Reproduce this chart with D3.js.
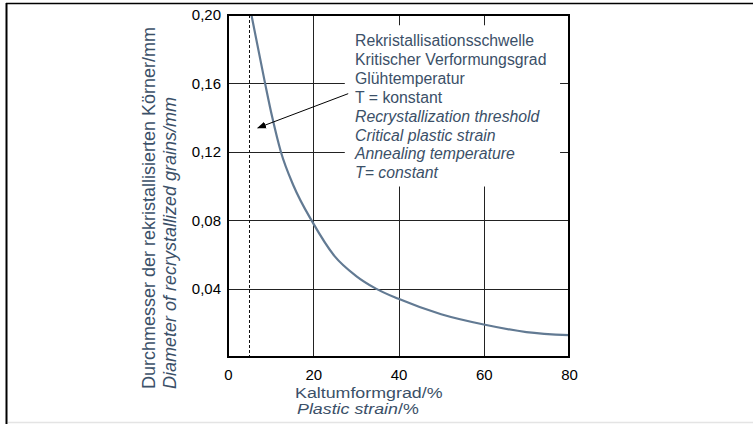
<!DOCTYPE html>
<html>
<head>
<meta charset="utf-8">
<script src="https://cdn.jsdelivr.net/npm/d3@7"></script>
<style>
body{margin:0;background:#fff;}
svg{display:block;font-family:"Liberation Sans",Arial,sans-serif;}
</style>
</head>
<body>
<svg width="753" height="424"></svg>
<script>
const strain = [5.5, 8.7, 10.4, 12.4, 15.4, 19.8, 25, 30, 34.7, 40, 50, 60, 70, 80];
const diameter = [0.200, 0.160, 0.140, 0.120, 0.100, 0.079, 0.059, 0.0475, 0.040, 0.034, 0.025, 0.019, 0.0146, 0.0128];
const xTicks = [0, 20, 40, 60, 80];
const yTicks = [0.04, 0.08, 0.12, 0.16, 0.20];
const threshold = 5;
const noteLines = [
	'Rekristallisationsschwelle',
	'Kritischer Verformungsgrad',
	'Glühtemperatur',
	'T = konstant',
	'Recrystallization threshold',
	'Critical plastic strain',
	'Annealing temperature',
	'T= constant'
];
const noteItalic = [false, false, false, false, true, true, true, true];
// arrow from note to dashed line, in data units
const arrowFrom = [28.2, 0.154];
const arrowTo = [7.0, 0.134];
// area kept clear behind the note
const noteBox = [27.4, 0.194, 77.9, 0.0997];

const textColor = '#3b5068';
const curveColor = '#627a93';

const pLeft = 228, pRight = 569, pTop = 15, pBottom = 357;

var svg = d3.select('svg');
var x = d3.scaleLinear().domain([0, 80]).range([pLeft, pRight]);
var y = d3.scaleLinear().domain([0, 0.20]).range([pBottom, pTop]);
var fmt = d3.formatLocale({decimal: ',', thousands: '.', grouping: [3], currency: ['', '']}).format('.2f');

// outer frame
svg.append('line').attr('x1', 6.5).attr('x2', 6.5).attr('y1', 3).attr('y2', 424)
	.attr('stroke', '#000').attr('stroke-width', 2);
svg.append('line').attr('x1', 6).attr('x2', 753).attr('y1', 3.5).attr('y2', 3.5)
	.attr('stroke', '#000').attr('stroke-width', 1.5);
svg.append('line').attr('x1', 8).attr('x2', 753).attr('y1', 422.5).attr('y2', 422.5)
	.attr('stroke', '#e4e4e4').attr('stroke-width', 1.5);

// grid
var grid = svg.append('g').attr('stroke', '#222').attr('stroke-width', 1);
grid.selectAll('line.v').data(xTicks.filter(d => d > 0 && d < 80)).enter().append('line')
	.attr('x1', d => Math.round(x(d)) + 0.5).attr('x2', d => Math.round(x(d)) + 0.5)
	.attr('y1', pTop).attr('y2', pBottom);
grid.selectAll('line.h').data(yTicks.filter(d => d < 0.2)).enter().append('line')
	.attr('y1', d => Math.round(y(d)) + 0.5).attr('y2', d => Math.round(y(d)) + 0.5)
	.attr('x1', pLeft).attr('x2', pRight);

// dashed threshold line
svg.append('line')
	.attr('x1', Math.round(x(threshold)) + 0.5).attr('x2', Math.round(x(threshold)) + 0.5)
	.attr('y1', pTop).attr('y2', pBottom)
	.attr('stroke', '#111').attr('stroke-width', 1).attr('stroke-dasharray', '3,2');

// white area behind note
svg.append('rect')
	.attr('x', x(noteBox[0])).attr('y', y(noteBox[1]))
	.attr('width', x(noteBox[2]) - x(noteBox[0])).attr('height', y(noteBox[3]) - y(noteBox[1]))
	.attr('fill', '#fff');

// curve
svg.append('clipPath').attr('id', 'clip').append('rect')
	.attr('x', pLeft).attr('y', pTop).attr('width', pRight - pLeft).attr('height', pBottom - pTop);
var line = d3.line().x(d => x(d[0])).y(d => y(d[1])).curve(d3.curveMonotoneX);
svg.append('path')
	.datum(strain.map((s, i) => [s, diameter[i]]))
	.attr('d', line)
	.attr('clip-path', 'url(#clip)')
	.attr('fill', 'none').attr('stroke', curveColor).attr('stroke-width', 2.2);

// plot border
svg.append('rect').attr('x', pLeft).attr('y', pTop).attr('width', pRight - pLeft).attr('height', pBottom - pTop)
	.attr('fill', 'none').attr('stroke', '#000').attr('stroke-width', 2);

// axes labels
var yAxis = d3.axisLeft(y).tickValues(yTicks).tickSize(0).tickPadding(7).tickFormat(fmt);
svg.append('g').attr('transform', `translate(${pLeft},0)`).call(yAxis)
	.call(g => g.select('.domain').remove())
	.selectAll('text').attr('font-size', 15).attr('fill', '#000').attr('font-family', 'Liberation Sans, Arial, sans-serif');
var xAxis = d3.axisBottom(x).tickValues(xTicks).tickSize(0).tickPadding(12);
svg.append('g').attr('transform', `translate(0,${pBottom})`).call(xAxis)
	.call(g => g.select('.domain').remove())
	.selectAll('text').attr('font-size', 15).attr('fill', '#000').attr('font-family', 'Liberation Sans, Arial, sans-serif');

// arrow
svg.append('defs').append('marker').attr('id', 'head')
	.attr('viewBox', '0 0 10 10').attr('refX', 9).attr('refY', 5)
	.attr('markerWidth', 9).attr('markerHeight', 9).attr('markerUnits', 'userSpaceOnUse')
	.attr('orient', 'auto')
	.append('path').attr('d', 'M0,1 L10,5 L0,9 Z').attr('fill', '#000');
svg.append('line')
	.attr('x1', x(arrowFrom[0])).attr('y1', y(arrowFrom[1]))
	.attr('x2', x(arrowTo[0])).attr('y2', y(arrowTo[1]))
	.attr('stroke', '#000').attr('stroke-width', 1).attr('marker-end', 'url(#head)');

// note text
svg.append('g').selectAll('text').data(noteLines).enter().append('text')
	.attr('x', x(29.8)).attr('y', (d, i) => 46 + i * 18.9)
	.attr('font-size', 15.8).attr('fill', textColor)
	.attr('font-style', (d, i) => noteItalic[i] ? 'italic' : 'normal')
	.text(d => d);

// axis titles
var xt = svg.append('text').attr('transform', 'translate(295,398) scale(1.15,1)')
	.attr('font-size', 15.5).attr('fill', textColor);
xt.text('Kaltumformgrad/%');
var xt2 = svg.append('text').attr('transform', 'translate(297,414) scale(1.15,1)')
	.attr('font-size', 15.5).attr('fill', textColor);
xt2.append('tspan').attr('font-style', 'italic').text('Plastic strain');
xt2.append('tspan').text('/%');

svg.append('text').attr('transform', 'translate(155,389) rotate(-90)')
	.attr('font-size', 18).attr('fill', textColor)
	.text('Durchmesser der rekristallisierten Körner/mm');
svg.append('text').attr('transform', 'translate(176,389) rotate(-90)')
	.attr('font-size', 18).attr('fill', textColor).attr('font-style', 'italic')
	.text('Diameter of recrystallized grains/mm');
</script>
</body>
</html>
